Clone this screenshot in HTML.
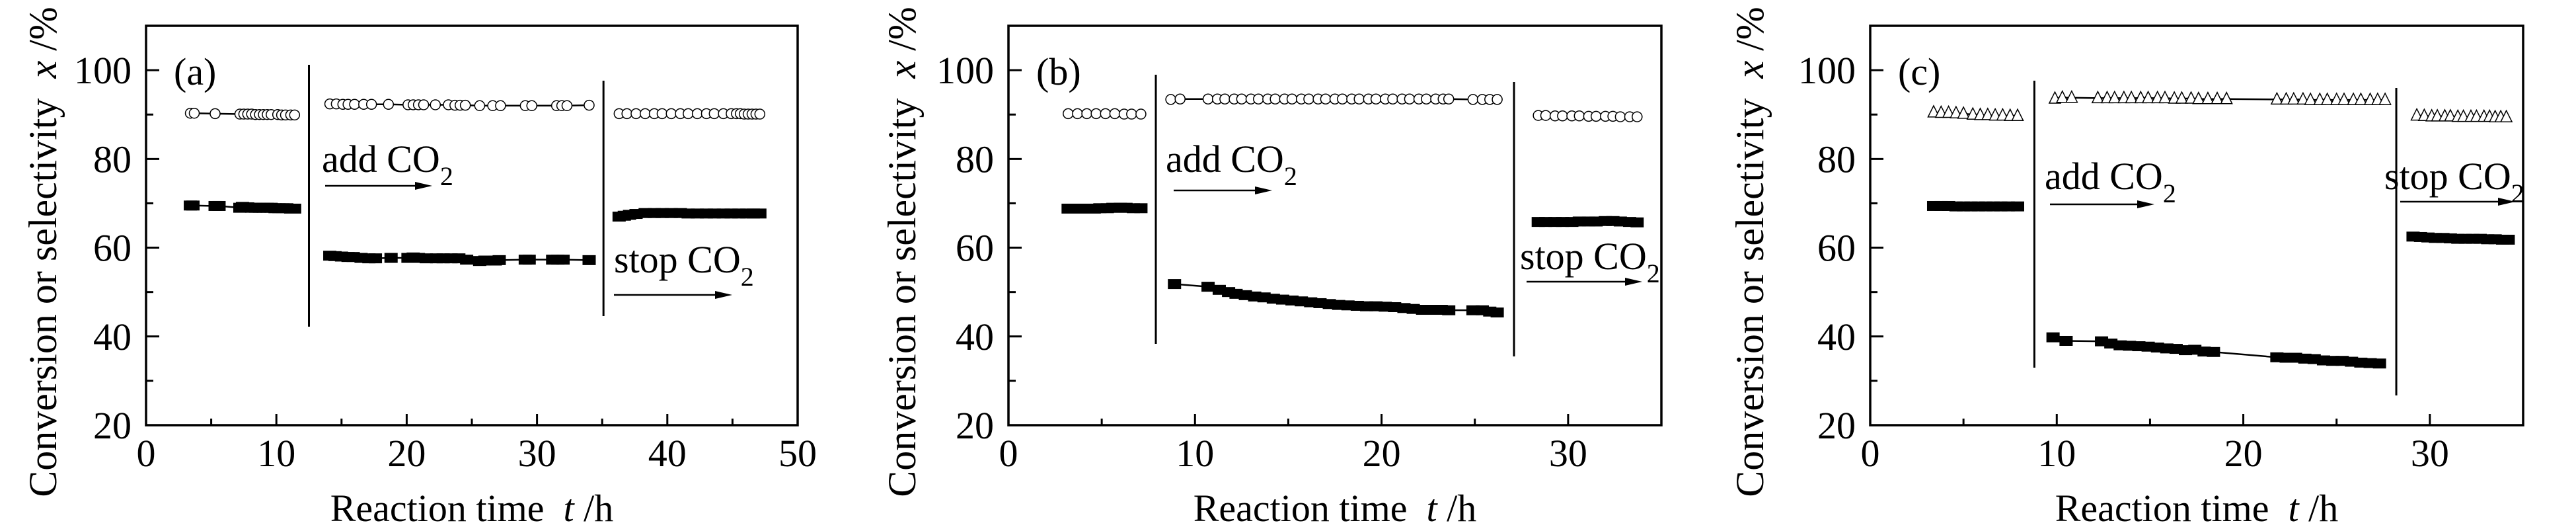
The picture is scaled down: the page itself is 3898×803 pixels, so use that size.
<!DOCTYPE html>
<html><head><meta charset="utf-8"><style>
html,body{margin:0;padding:0;background:#fff;}
svg{display:block;}
text{font-family:"Liberation Serif",serif;fill:#000;}
</style></head><body>
<svg id="chart" width="3898" height="803" viewBox="0 0 3898 803" xmlns="http://www.w3.org/2000/svg"></svg>
<script>
// ---------- Panel (a) data ----------
const aSelX1=[3.4,3.7,5.3,7.2,7.5,7.8,8.1,8.4,8.7,9.0,9.3,9.6,10.1,10.4,10.7,11.1,11.4];
const aSelY1=[90.3,90.3,90.2,90.1,90.1,90.1,90.1,90.0,90.0,90.0,90.0,90.0,90.0,89.9,89.9,89.9,89.9];
const aConX1=[3.4,3.6,5.3,5.6,7.2,7.4,7.6,7.8,8.1,8.4,8.7,9.0,9.3,9.6,9.9,10.2,10.5,10.8,11.1,11.4];
const aConY1=[69.5,69.5,69.4,69.4,69.0,69.2,69.1,69.1,69.0,69.0,69.0,69.0,69.0,69.0,68.9,68.9,68.9,68.9,68.8,68.8];
const aSelX2=[14.1,14.6,15.1,15.5,16.0,16.7,17.3,18.6,20.1,20.5,20.9,21.3,22.2,23.2,23.7,24.1,24.5,25.6,26.6,27.2,29.1,29.6,31.5,31.9,32.3,34.0];
const aSelY2=[92.4,92.4,92.3,92.3,92.3,92.3,92.3,92.3,92.2,92.2,92.2,92.2,92.2,92.2,92.1,92.1,92.1,92.0,92.0,92.0,92.0,92.0,92.0,92.0,92.0,92.1];
const aConX2=[14.1,14.5,15.0,15.5,15.9,16.5,17.1,17.6,18.8,20.1,20.5,20.9,21.5,22.3,22.8,23.4,24.0,24.6,25.6,26.0,26.8,27.1,29.1,29.4,31.2,31.6,32.0,34.0];
const aConY2=[58.2,58.1,58.0,57.9,57.9,57.7,57.6,57.6,57.7,57.7,57.8,57.7,57.6,57.6,57.6,57.6,57.6,57.3,57.0,57.1,57.1,57.2,57.3,57.3,57.3,57.3,57.3,57.2];
const aSelX3=[36.3,36.9,37.6,38.3,39.0,39.6,40.3,41.0,41.6,42.3,43.0,43.6,44.3,44.9,45.3,45.6,45.9,46.2,46.5,46.8,47.1];
const aSelY3=[90.2,90.2,90.2,90.2,90.2,90.2,90.2,90.2,90.2,90.2,90.2,90.2,90.2,90.2,90.2,90.2,90.1,90.1,90.1,90.1,90.1];
const aConX3=[36.3,36.7,37.1,37.6,38.3,39.0,39.6,40.3,41.0,41.6,42.3,43.0,43.6,44.3,44.9,45.5,46.1,46.6,47.1];
const aConY3=[67.0,67.2,67.4,67.6,67.8,67.8,67.8,67.8,67.8,67.7,67.7,67.7,67.7,67.7,67.7,67.7,67.7,67.7,67.7];
// ---------- Panel (b) data ----------
const bSelX1=[3.2,3.7,4.2,4.7,5.2,5.7,6.2,6.6,7.1];
const bSelY1=[90.2,90.2,90.2,90.2,90.2,90.2,90.1,90.1,90.1];
const bConX1=[3.2,3.5,3.9,4.2,4.6,4.9,5.3,5.6,6.0,6.3,6.7,7.1];
const bConY1=[68.8,68.8,68.8,68.8,68.8,68.9,68.9,69.0,69.0,69.0,68.9,68.9];
const bSelX2=[8.7,9.2,10.7,11.2,11.6,12.1,12.5,13.0,13.4,13.9,14.3,14.8,15.2,15.7,16.1,16.6,17.0,17.5,17.9,18.4,18.8,19.3,19.7,20.2,20.6,21.1,21.5,22.0,22.4,22.9,23.3,23.6,24.9,25.4,25.8,26.2];
const bSelY2=[93.4,93.5,93.5,93.5,93.5,93.5,93.5,93.5,93.5,93.5,93.5,93.5,93.5,93.5,93.5,93.5,93.5,93.5,93.5,93.5,93.5,93.5,93.5,93.5,93.5,93.5,93.5,93.5,93.5,93.5,93.5,93.5,93.4,93.4,93.4,93.4];
const bConX2=[8.9,10.7,11.3,11.8,12.2,12.7,13.2,13.7,14.2,14.7,15.2,15.7,16.2,16.7,17.2,17.7,18.2,18.7,19.2,19.7,20.2,20.7,21.2,21.7,22.2,22.7,23.2,23.6,24.9,25.4,25.8,26.2];
const bConY2=[51.8,51.2,50.5,50.0,49.6,49.3,49.0,48.8,48.5,48.3,48.1,47.9,47.7,47.5,47.3,47.1,47.0,46.9,46.8,46.8,46.7,46.6,46.4,46.2,46.0,46.0,46.0,45.9,45.9,45.9,45.6,45.4];
const bSelX3=[28.4,28.8,29.3,29.7,30.2,30.6,31.1,31.5,32.0,32.4,32.8,33.3,33.7];
const bSelY3=[89.8,89.8,89.7,89.7,89.7,89.7,89.6,89.6,89.6,89.6,89.5,89.5,89.5];
const bConX3=[28.4,28.8,29.3,29.7,30.2,30.6,31.1,31.5,32.0,32.4,32.8,33.3,33.7];
const bConY3=[65.8,65.8,65.8,65.8,65.8,65.9,65.9,65.9,66.0,66.0,65.9,65.8,65.7];
// ---------- Panel (c) data ----------
const cSelX1=[3.4,3.8,4.2,4.6,5.0,5.5,5.9,6.3,6.7,7.1,7.5,7.9];
const cSelY1=[90.5,90.4,90.4,90.3,90.2,90.0,89.9,89.9,89.8,89.8,89.7,89.7];
const cConX1=[3.4,3.8,4.2,4.6,5.0,5.4,5.8,6.2,6.6,7.0,7.4,7.9];
const cConY1=[69.4,69.4,69.4,69.3,69.3,69.3,69.3,69.3,69.3,69.3,69.3,69.3];
const cSelX2=[9.9,10.3,10.8,12.2,12.7,13.1,13.6,14.0,14.5,14.9,15.4,15.8,16.3,16.7,17.2,17.6,18.1,18.6,19.1,21.8,22.3,22.7,23.2,23.6,24.1,24.5,25.0,25.4,25.9,26.3,26.8,27.2,27.6];
const cSelY2=[93.6,93.8,93.8,93.7,93.7,93.7,93.7,93.7,93.7,93.7,93.7,93.7,93.6,93.6,93.6,93.5,93.5,93.5,93.5,93.4,93.4,93.4,93.4,93.3,93.3,93.3,93.3,93.3,93.3,93.3,93.3,93.3,93.3];
const cConX2=[9.8,10.5,12.4,12.9,13.4,13.9,14.4,14.9,15.4,15.9,16.4,16.9,17.4,17.9,18.4,21.8,22.3,22.8,23.3,23.8,24.3,24.8,25.3,25.8,26.3,26.8,27.3];
const cConY2=[39.8,39.0,38.9,38.4,38.0,37.9,37.8,37.7,37.5,37.3,37.2,36.9,37.0,36.6,36.5,35.3,35.2,35.2,35.0,34.9,34.6,34.5,34.5,34.3,34.1,34.0,33.9];
const cSelX3=[29.3,29.7,30.1,30.4,30.8,31.1,31.5,31.8,32.2,32.5,32.9,33.2,33.5,33.8,34.1];
const cSelY3=[89.8,89.7,89.6,89.6,89.6,89.6,89.5,89.5,89.5,89.5,89.5,89.5,89.4,89.4,89.4];
const cConX3=[29.1,29.5,29.9,30.3,30.7,31.1,31.5,31.9,32.3,32.7,33.1,33.5,33.9,34.2];
const cConY3=[62.5,62.4,62.3,62.2,62.2,62.1,62.0,62.0,62.0,62.0,61.9,61.9,61.8,61.8];
// axis tick values
const yTicksMajor=[20,40,60,80,100];
const yTicksMinor=[30,50,70,90];
const xTicksA=[0,10,20,30,40,50];
const xTicksBC=[0,10,20,30];

const NS="http://www.w3.org/2000/svg";
const svg=document.getElementById('chart');
function mk(tag,attrs,parent){const e=document.createElementNS(NS,tag);for(const k in attrs)e.setAttribute(k,attrs[k]);(parent||svg).appendChild(e);return e;}

const panels=[
 {id:'a',label:'(a)',L:221,R:1207,xmax:50,xt:xTicksA,ytx:85,
  sel:[[aSelX1,aSelY1],[aSelX2,aSelY2],[aSelX3,aSelY3]],con:[[aConX1,aConY1],[aConX2,aConY2],[aConX3,aConY3]],marker:'circle',
  seps:[[12.5,98,494],[35.1,122,478]],
  add:{x:487,y:260,ax1:492,ax2:654,ay:281},stop:{x:929,y:412,ax1:929,ax2:1108,ay:446}},
 {id:'b',label:'(b)',L:1526,R:2514,xmax:35,xt:xTicksBC,ytx:1385,
  sel:[[bSelX1,bSelY1],[bSelX2,bSelY2],[bSelX3,bSelY3]],con:[[bConX1,bConY1],[bConX2,bConY2],[bConX3,bConY3]],marker:'circle',
  seps:[[7.9,113,520],[27.1,124,539]],
  add:{x:1764,y:260,ax1:1776,ax2:1925,ay:288},stop:{x:2300,y:407,ax1:2310,ax2:2485,ay:426}},
 {id:'c',label:'(c)',L:2830,R:3818,xmax:35,xt:xTicksBC,ytx:2668,
  sel:[[cSelX1,cSelY1],[cSelX2,cSelY2],[cSelX3,cSelY3]],con:[[cConX1,cConY1],[cConX2,cConY2],[cConX3,cConY3]],marker:'triangle',
  seps:[[8.8,122,556],[28.2,133,598]],
  add:{x:3094,y:286,ax1:3102,ax2:3260,ay:309},stop:{x:3608,y:286,ax1:3632,ax2:3806,ay:305}}
];
const TOP=39,BOT=643,YMIN=20,YMAX=110;

panels.forEach(p=>{
  const g=mk('g',{});
  
  
  const xs=v=>p.L+(v/p.xmax)*(p.R-p.L);
  const ys=v=>BOT-(v-YMIN)/(YMAX-YMIN)*(BOT-TOP);
  const frame=mk('rect',{x:p.L,y:TOP,width:p.R-p.L,height:BOT-TOP,fill:'none',stroke:'#000','stroke-width':3.5},g);
  
  
  yTicksMajor.forEach(v=>{
    mk('line',{x1:p.L,x2:p.L+20,y1:ys(v),y2:ys(v),stroke:'#000','stroke-width':3},g);
    const t=mk('text',{x:p.L-22,y:ys(v)+20,'font-size':58,'text-anchor':'end'},g);
    t.textContent=v;
    
    
  });
  yTicksMinor.forEach(v=>mk('line',{x1:p.L,x2:p.L+11,y1:ys(v),y2:ys(v),stroke:'#000','stroke-width':3},g));
  p.xt.forEach(v=>{
    if(v>0&&v<p.xmax) mk('line',{x1:xs(v),x2:xs(v),y1:BOT,y2:BOT-17,stroke:'#000','stroke-width':3},g);
    const t=mk('text',{x:xs(v),y:705,'font-size':58,'text-anchor':'middle'},g);
    t.textContent=v;
    
    
  });
  for(let v=5;v<p.xmax;v+=10) mk('line',{x1:xs(v),x2:xs(v),y1:BOT,y2:BOT-10,stroke:'#000','stroke-width':3},g);
  // titles
  const xt=mk('text',{x:(p.L+p.R)/2,y:788,'font-size':58,'text-anchor':'middle'},g);
  xt.innerHTML='Reaction time&#160; <tspan font-style="italic">t</tspan> /h';
  
  
  const yt=mk('text',{x:0,y:0,'font-size':60,'text-anchor':'middle',transform:`translate(${p.ytx},381) rotate(-90)`},g);
  yt.innerHTML='Conversion or selectivity&#160; <tspan font-style="italic">x</tspan> /%';
  
  
  const pl=mk('text',{x:p.L+42,y:128,'font-size':58},g);
  pl.textContent=p.label;
  
  
  // separators
  p.seps.forEach(s=>{
    const l=mk('line',{x1:xs(s[0]),x2:xs(s[0]),y1:s[1],y2:s[2],stroke:'#000','stroke-width':3},g);
    
    
  });
  // annotations
  [['add',p.add,'add-co2-annotation'],['stop',p.stop,'stop-co2-annotation']].forEach(([w,a,nm])=>{
    const t=mk('text',{x:a.x,y:a.y,'font-size':58},g);
    t.innerHTML=w+' CO<tspan font-size="40" dy="20">2</tspan>';
    
    
    mk('line',{x1:a.ax1,x2:a.ax2-20,y1:a.ay,y2:a.ay,stroke:'#000','stroke-width':2.5},g);
    mk('polygon',{points:`${a.ax2},${a.ay} ${a.ax2-26},${a.ay-6} ${a.ax2-26},${a.ay+6}`,fill:'#000'},g);
  });
  // conversion series
  p.con.forEach(([X,Y],i)=>{
    const s=mk('g',{},g);
    
    
    mk('polyline',{points:X.map((x,j)=>xs(x)+','+ys(Y[j])).join(' '),fill:'none',stroke:'#000','stroke-width':2.5},s);
    X.forEach((x,j)=>{
      const r=mk('rect',{x:xs(x)-10,y:ys(Y[j])-7.5,width:20,height:15,fill:'#000'},s);
      
      
    });
  });
  // selectivity series
  p.sel.forEach(([X,Y],i)=>{
    const s=mk('g',{},g);
    
    
    mk('polyline',{points:X.map((x,j)=>xs(x)+','+ys(Y[j])).join(' '),fill:'none',stroke:'#000','stroke-width':2.5},s);
    X.forEach((x,j)=>{
      const cx=xs(x),cy=ys(Y[j]);
      let m;
      if(p.marker==='circle') m=mk('ellipse',{cx:cx,cy:cy,rx:7.5,ry:7.5,fill:'#fff',stroke:'#000','stroke-width':1.5},s);
      else m=mk('polygon',{points:`${cx},${cy-10} ${cx-8.5},${cy+7} ${cx+8.5},${cy+7}`,fill:'#fff',stroke:'#000','stroke-width':1.5},s);
      
      
    });
  });
});
</script>
</body></html>
